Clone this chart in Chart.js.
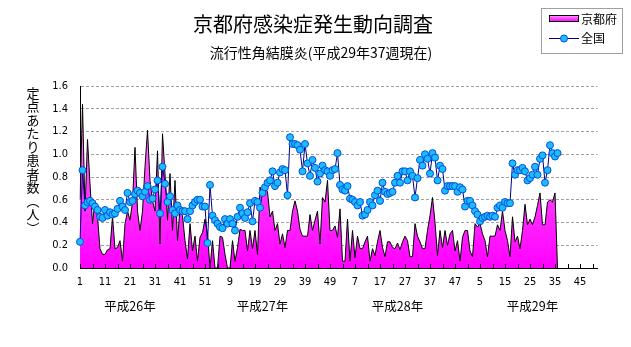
<!DOCTYPE html>
<html>
<head>
<meta charset="utf-8">
<script src="https://cdn.jsdelivr.net/npm/chart.js@4.4.0/dist/chart.umd.min.js"></script>
<style>
html, body { margin: 0; padding: 0; background: #fff; }
canvas { display: block; }
</style>
</head>
<body>
<canvas id="grafica" width="631" height="347"></canvas>
<script>
var titulo = "京都府感染症発生動向調査";
var subtitulo = "流行性角結膜炎(平成29年37週現在)";
var ejeY = ["定", "点", "あ", "た", "り", "患", "者", "数", "︵", "人", "︶"];
var anios = ["平成26年", "平成27年", "平成28年", "平成29年"];
var semanasPorAnio = 52;
var nombres = ["京都府", "全国"];

// 京都府 (定点あたり)
var kyoto = [
    0.60, 1.44, 0.50, 1.13, 0.74, 0.39, 0.59, 0.45, 0.17, 0.12,
    0.12, 0.16, 0.17, 0.45, 0.17, 0.18, 0.24, 0.06, 0.39, 0.50,
    0.42, 0.58, 1.06, 0.50, 0.33, 0.50, 0.89, 1.21, 0.77, 0.59,
    0.50, 1.03, 0.21, 1.18, 0.83, 0.42, 0.83, 0.33, 0.77, 0.24,
    0.53, 0.46, 0.24, 0.08, 0.39, 0.15, 0.28, 0.06, 0.27, 0.31,
    0.43, 0.30, 0.00, 0.24, 0.00, 0.00, 0.28, 0.27, 0.12, 0.00,
    0.00, 0.24, 0.06, 0.18, 0.34, 0.33, 0.33, 0.15, 0.33, 0.17,
    0.33, 0.12, 0.71, 0.65, 0.71, 0.67, 0.45, 0.50, 0.33, 0.39,
    0.21, 0.30, 0.18, 0.33, 0.33, 0.50, 0.59, 0.50, 0.34, 0.28,
    0.28, 0.28, 0.47, 0.33, 0.42, 0.50, 0.21, 0.62, 0.58, 0.77,
    0.33, 0.33, 0.37, 0.27, 0.52, 0.06, 0.06, 0.43, 0.06, 0.33,
    0.09, 0.28, 0.17, 0.17, 0.23, 0.28, 0.06, 0.17, 0.11, 0.23,
    0.33, 0.18, 0.10, 0.23, 0.23, 0.18, 0.17, 0.22, 0.16, 0.23,
    0.28, 0.24, 0.10, 0.10, 0.39, 0.28, 0.23, 0.17, 0.17, 0.33,
    0.46, 0.62, 0.40, 0.11, 0.33, 0.18, 0.33, 0.20, 0.30, 0.33,
    0.15, 0.24, 0.06, 0.27, 0.33, 0.33, 0.15, 0.10, 0.39, 0.36,
    0.39, 0.30, 0.24, 0.10, 0.28, 0.28, 0.28, 0.38, 0.33, 0.50,
    0.33, 0.24, 0.10, 0.45, 0.23, 0.28, 0.17, 0.33, 0.56, 0.38,
    0.43, 0.38, 0.45, 0.55, 0.66, 0.38, 0.38, 0.58, 0.60, 0.58,
    0.66, 0.00
];

// 全国
var zenkoku = [
    0.23, 0.86, 0.55, 0.58, 0.59, 0.57, 0.54, 0.51, 0.45, 0.44,
    0.51, 0.46, 0.49, 0.47, 0.48, 0.52, 0.59, 0.54, 0.51, 0.66,
    0.58, 0.59, 0.65, 0.68, 0.66, 0.63, 0.67, 0.72, 0.60, 0.61,
    0.69, 0.77, 0.48, 0.89, 0.74, 0.58, 0.63, 0.51, 0.48, 0.55,
    0.51, 0.50, 0.50, 0.43, 0.50, 0.55, 0.58, 0.60, 0.60, 0.54,
    0.54, 0.22, 0.73, 0.46, 0.42, 0.39, 0.36, 0.35, 0.43, 0.39,
    0.43, 0.39, 0.33, 0.45, 0.53, 0.48, 0.44, 0.49, 0.57, 0.41,
    0.59, 0.58, 0.53, 0.66, 0.71, 0.75, 0.77, 0.85, 0.72, 0.75,
    0.84, 0.87, 0.86, 0.64, 1.15, 1.09, 1.09, 1.08, 1.04, 0.85,
    1.09, 0.92, 0.81, 0.95, 0.88, 0.76, 0.83, 0.90, 0.86, 0.85,
    0.81, 0.86, 0.87, 1.01, 0.73, 0.69, 0.68, 0.72, 0.61, 0.60,
    0.58, 0.55, 0.58, 0.46, 0.47, 0.51, 0.58, 0.55, 0.64, 0.68,
    0.59, 0.75, 0.67, 0.65, 0.66, 0.67, 0.75, 0.81, 0.75, 0.85,
    0.85, 0.77, 0.85, 0.81, 0.62, 0.79, 0.95, 0.90, 1.00, 0.96,
    0.83, 1.01, 0.97, 0.77, 0.90, 0.87, 0.68, 0.72, 0.72, 0.72,
    0.72, 0.67, 0.71, 0.69, 0.54, 0.59, 0.59, 0.55, 0.50, 0.47,
    0.41, 0.44, 0.45, 0.46, 0.45, 0.46, 0.45, 0.53, 0.55, 0.53,
    0.58, 0.57, 0.57, 0.92, 0.82, 0.86, 0.86, 0.88, 0.85, 0.77,
    0.79, 0.82, 0.89, 0.82, 0.96, 0.99, 0.75, 0.86, 1.08, 1.01,
    0.98, 1.01
];

// semanas 1..52 de cada año
var semanas = [];
for (var a = 0; a < anios.length; a++) {
    for (var s = 1; s <= semanasPorAnio; s++) {
        semanas.push(s);
    }
}
// donde va cada etiqueta de año (indice de categoria)
var centroAnio = [20, 73, 127, 181];

var fuenteCJK = '"Noto Sans CJK JP", sans-serif';
var fuenteNum = '"Liberation Sans Narrow", "DejaVu Sans Condensed", "Liberation Sans", sans-serif';

function rosa(c, top, bottom) {
    var g = c.createLinearGradient(0, top, 0, bottom);
    g.addColorStop(0, "#ffb0ff");
    g.addColorStop(0.5, "#ff44ff");
    g.addColorStop(1, "#ff00ff");
    return g;
}

var adornos = {
    id: "adornos",
    afterDraw: function (chart) {
        var c = chart.ctx;
        var x = chart.scales.x;
        var area = chart.chartArea;
        c.save();

        // marcas cada 5 semanas
        c.strokeStyle = "#000";
        c.lineWidth = 1;
        for (var i = 0; i < semanas.length; i += 5) {
            var px = Math.round(x.getPixelForValue(i)) + 0.5;
            c.beginPath();
            c.moveTo(px, area.bottom);
            c.lineTo(px, area.bottom - 4);
            c.stroke();
        }

        // titulos
        c.fillStyle = "#000";
        c.textAlign = "center";
        c.textBaseline = "middle";
        c.font = "20px " + fuenteCJK;
        c.fillText(titulo, 313, 24);
        c.font = "14px " + fuenteCJK;
        c.fillText(subtitulo, 321, 53);

        // años
        c.font = "12.5px " + fuenteCJK;
        for (var a = 0; a < anios.length; a++) {
            c.fillText(anios[a], x.getPixelForValue(centroAnio[a]), 306);
        }

        // titulo eje y, vertical
        c.font = "13px " + fuenteCJK;
        for (var k = 0; k < ejeY.length; k++) {
            c.fillText(ejeY[k], 33, 93 + k * 13.5);
        }

        // leyenda
        c.fillStyle = "#fff";
        c.fillRect(541, 8, 81, 45);
        c.strokeStyle = "#a0a0a0";
        c.strokeRect(541.5, 8.5, 81, 45);

        c.fillStyle = rosa(c, 15, 22);
        c.fillRect(549, 15, 30, 7);
        c.strokeStyle = "#000";
        c.strokeRect(549.5, 15.5, 29, 6);

        c.strokeStyle = "#000080";
        c.beginPath();
        c.moveTo(549, 38.5);
        c.lineTo(579, 38.5);
        c.stroke();
        c.beginPath();
        c.arc(564, 38.5, 3.5, 0, Math.PI * 2);
        c.fillStyle = "#1cbcff";
        c.fill();
        c.strokeStyle = "#0050e0";
        c.stroke();

        c.fillStyle = "#000";
        c.textAlign = "left";
        c.font = "12px " + fuenteCJK;
        c.fillText(chart.data.datasets[0].label, 581, 19);
        c.fillText(chart.data.datasets[1].label, 581, 38.5);

        c.restore();
    }
};

const ctx = document.getElementById("grafica");
const myChart = new Chart(ctx, {
    type: "line",
    data: {
        labels: semanas,
        datasets: [
            {
                label: nombres[0],
                data: kyoto,
                fill: "origin",
                backgroundColor: function (context) {
                    var area = context.chart.chartArea;
                    if (!area) {
                        return "#ff40ff";
                    }
                    return rosa(context.chart.ctx, area.top, area.bottom);
                },
                borderColor: "#000",
                borderWidth: 1,
                pointRadius: 0,
                tension: 0,
                order: 1
            },
            {
                label: nombres[1],
                data: zenkoku,
                fill: false,
                borderColor: "#000080",
                borderWidth: 1,
                pointRadius: 3.5,
                pointBackgroundColor: "#1cbcff",
                pointBorderColor: "#0050e0",
                pointBorderWidth: 1,
                tension: 0,
                order: 0
            }
        ]
    },
    options: {
        responsive: false,
        animation: false,
        devicePixelRatio: 1,
        layout: {
            padding: { left: 40, right: 33.5, top: 86, bottom: 39 }
        },
        plugins: {
            legend: { display: false },
            tooltip: { enabled: false },
            title: { display: false }
        },
        scales: {
            x: {
                type: "category",
                offset: false,
                afterFit: function (scale) { scale.height = 40; },
                grid: { display: false, drawTicks: false },
                border: { display: true, color: "#000", width: 1 },
                ticks: {
                    autoSkip: false,
                    maxRotation: 0,
                    minRotation: 0,
                    padding: 8,
                    color: "#000",
                    font: { size: 11, family: fuenteNum },
                    callback: function (val, idx) {
                        return idx % 10 === 0 ? this.getLabelForValue(val) : null;
                    }
                }
            },
            y: {
                min: 0,
                max: 1.6,
                afterFit: function (scale) { scale.width = 40; },
                grid: { color: "#a0a0a0", lineWidth: 1, drawTicks: false },
                border: { display: true, color: "#000", width: 1, dash: [3, 2] },
                ticks: {
                    stepSize: 0.2,
                    padding: 12,
                    color: "#000",
                    font: { size: 11, family: fuenteNum },
                    callback: function (v) { return v.toFixed(1); }
                }
            }
        }
    },
    plugins: [adornos]
});
</script>
</body>
</html>
